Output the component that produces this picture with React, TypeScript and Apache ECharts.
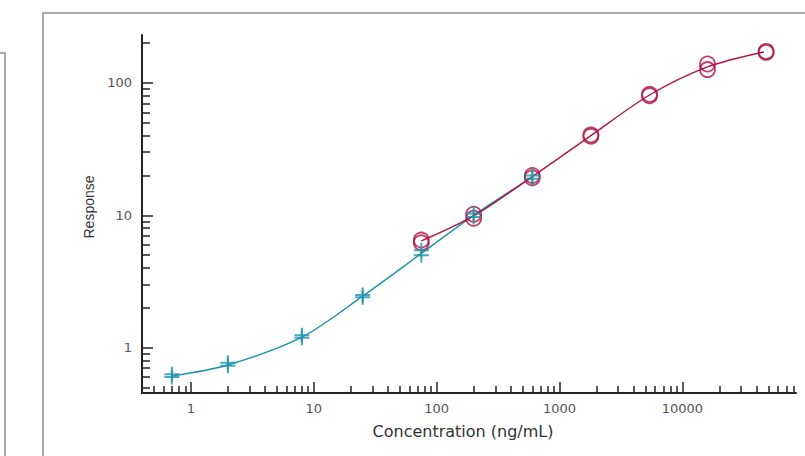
import React, { useEffect, useRef } from 'react';
import * as echarts from 'echarts';

// Replicate measurements (concentration ng/mL, response)
const tealConc = [0.7, 0.7, 2, 2, 8, 8, 25, 25, 75, 75, 200, 200, 600, 600];
const tealResp = [0.63, 0.6, 0.77, 0.73, 1.24, 1.19, 2.5, 2.4, 5.45, 5.0, 10.3, 9.7, 20.0, 18.9];
const redConc = [75, 75, 200, 200, 600, 600, 1800, 1800, 5400, 5400, 16000, 16000, 48000, 48000];
const redResp = [6.5, 6.2, 10.2, 9.5, 20.0, 19.2, 40.5, 39.5, 82, 80, 139, 126, 173, 170];

// Fitted curves
const tealCurveConc = [0.7, 2, 8, 25, 75, 200, 600];
const tealCurveResp = [0.61, 0.74, 1.2, 2.45, 5.15, 10.0, 19.4];
const redCurveConc = [75, 200, 600, 1800, 5400, 16000, 46000];
const redCurveResp = [6.4, 9.9, 19.6, 40, 81, 132, 171];

// Axis ticks
const xMajorTicks = [1, 10, 100, 1000, 10000];
const xMinorTicks = [0.4, 0.5, 0.6, 0.7, 0.8, 0.9, 2, 3, 4, 5, 6, 7, 8, 9, 20, 30, 40, 50, 60, 70, 80, 90,
  200, 300, 400, 500, 600, 700, 800, 900, 2000, 3000, 4000, 5000, 6000, 7000, 8000, 9000,
  20000, 30000, 40000, 50000, 60000, 70000, 80000];
const yMajorTicks = [1, 10, 100];
const yMinorTicks = [0.5, 0.6, 0.7, 0.8, 0.9, 2, 3, 4, 5, 6, 7, 8, 9, 20, 30, 40, 50, 60, 70, 80, 90, 200];
const xRange = [0.4, 84000];
const yRange = [0.455, 230];

const TEAL = '#1a93ab';
const RED = '#b01446';
const AXIS = '#222';
const lg = (v: number) => Math.log10(v);

export default function App() {
  const ref = useRef<HTMLDivElement>(null);
  useEffect(() => {
    if (!ref.current) return;
    document.body.style.margin = '0';
    const chart = echarts.init(ref.current, undefined, { renderer: 'svg' });
    const pairs = (xs: number[], ys: number[]) => xs.map((x, i) => [lg(x), lg(ys[i])]);
    const fmt = (v: number) => String(Math.round(Math.pow(10, v)));
    const baseX = {
      type: 'value' as const,
      min: lg(xRange[0]),
      max: lg(xRange[1]),
      position: 'bottom' as const,
      splitLine: { show: false },
    };
    const baseY = {
      type: 'value' as const,
      min: lg(yRange[0]),
      max: lg(yRange[1]),
      position: 'left' as const,
      splitLine: { show: false },
    };
    const plus = 'path://M8,0 L8,16 M0,8 L16,8';
    chart.setOption({
      animation: false,
      backgroundColor: '#fff',
      grid: { left: 142, right: 9, top: 35, bottom: 63, containLabel: false },
      xAxis: [
        {
          ...baseX,
          axisLine: { show: true, onZero: false, lineStyle: { color: AXIS, width: 2 } },
          axisTick: { show: true, inside: true, length: 11, customValues: xMajorTicks.map(lg), lineStyle: { color: AXIS, width: 1.5 } },
          axisLabel: { customValues: xMajorTicks.map(lg), formatter: fmt, margin: 9, color: '#555', fontSize: 13, fontFamily: 'DejaVu Sans' },
          name: 'Concentration (ng/mL)',
          nameLocation: 'middle',
          nameGap: 30,
          nameTextStyle: { color: '#333', fontSize: 16, fontFamily: 'DejaVu Sans', padding: [0, 12, 0, 0] },
        },
        {
          ...baseX,
          axisLine: { show: false, onZero: false },
          axisTick: { show: true, inside: true, length: 7, customValues: xMinorTicks.map(lg), lineStyle: { color: AXIS, width: 1.5 } },
          axisLabel: { show: false },
        },
      ],
      yAxis: [
        {
          ...baseY,
          axisLine: { show: true, onZero: false, lineStyle: { color: AXIS, width: 2 } },
          axisTick: { show: true, inside: true, length: 11, customValues: yMajorTicks.map(lg), lineStyle: { color: AXIS, width: 1.5 } },
          axisLabel: { customValues: yMajorTicks.map(lg), formatter: fmt, margin: 10, color: '#555', fontSize: 13, fontFamily: 'DejaVu Sans' },
          name: 'Response',
          nameLocation: 'middle',
          nameGap: 41,
          nameTextStyle: { color: '#333', fontSize: 14, fontFamily: 'Liberation Sans', padding: [0, 0, 0, 14] },
        },
        {
          ...baseY,
          axisLine: { show: false, onZero: false },
          axisTick: { show: true, inside: true, length: 8, customValues: yMinorTicks.map(lg), lineStyle: { color: AXIS, width: 1.5 } },
          axisLabel: { show: false },
        },
      ],
      graphic: [
        { type: 'polyline', silent: true, shape: { points: [[43, 456], [43, 13], [805, 13]] }, style: { stroke: '#a8a8a8', lineWidth: 2, fill: 'none' } },
        { type: 'polyline', silent: true, shape: { points: [[0, 53], [5, 53], [5, 456]] }, style: { stroke: '#a8a8a8', lineWidth: 2, fill: 'none' } },
      ],
      series: [
        {
          type: 'line', name: 'tealCurve', data: pairs(tealCurveConc, tealCurveResp),
          smooth: 0.3, showSymbol: false, symbol: 'none',
          lineStyle: { color: TEAL, width: 1.4 }, z: 2,
        },
        {
          type: 'line', name: 'redCurve', data: pairs(redCurveConc, redCurveResp),
          smooth: 0.3, showSymbol: false, symbol: 'none',
          lineStyle: { color: RED, width: 1.4 }, z: 3,
        },
        {
          type: 'scatter', name: 'red', data: pairs(redConc, redResp),
          symbol: 'circle', symbolSize: 15,
          itemStyle: { color: 'rgba(0,0,0,0)', borderColor: RED, borderWidth: 1.8 }, z: 4,
        },
        {
          type: 'scatter', name: 'teal', data: pairs(tealConc, tealResp),
          symbol: plus, symbolSize: 15,
          itemStyle: { color: 'rgba(0,0,0,0)', borderColor: TEAL, borderWidth: 2 }, z: 5,
        },
      ],
    });
    return () => chart.dispose();
  }, []);
  return <div ref={ref} style={{ position: 'absolute', left: 0, top: 0, width: 805, height: 456 }} />;
}
